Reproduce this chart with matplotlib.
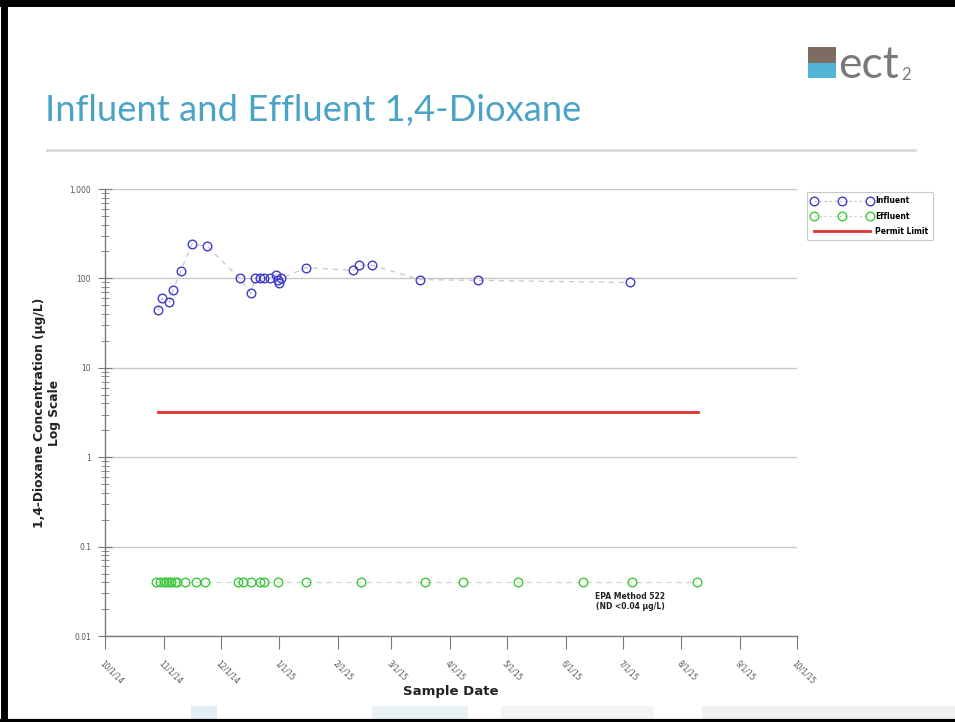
import numpy as np
import pandas as pd
import matplotlib
matplotlib.use('Agg')
import matplotlib.pyplot as plt
import matplotlib.dates as mdates
from matplotlib.lines import Line2D
from matplotlib.patches import Rectangle
from matplotlib.ticker import FixedLocator, FuncFormatter, LogLocator, NullFormatter

# influent samples (ug/L)
influent_dates = ['2014-10-29', '2014-10-31', '2014-11-04', '2014-11-06', '2014-11-10',
                  '2014-11-16', '2014-11-24', '2014-12-11', '2014-12-17', '2014-12-19',
                  '2014-12-22', '2014-12-24', '2014-12-27', '2014-12-30', '2014-12-31',
                  '2015-01-01', '2015-01-02', '2015-01-15', '2015-02-09', '2015-02-12',
                  '2015-02-19', '2015-03-16', '2015-04-16', '2015-07-05']
influent_vals = [44, 60, 54, 75, 122, 245, 228, 100, 68, 100, 100, 100, 100, 110, 95,
                 88, 100, 132, 123, 140, 140, 97, 95, 90]

# effluent samples, all non-detect
effluent_dates = ['2014-10-28', '2014-10-30', '2014-11-01', '2014-11-02', '2014-11-04',
                  '2014-11-05', '2014-11-07', '2014-11-08', '2014-11-12', '2014-11-18',
                  '2014-11-23', '2014-12-10', '2014-12-13', '2014-12-17', '2014-12-22',
                  '2014-12-24', '2014-12-31', '2015-01-15', '2015-02-13', '2015-03-19',
                  '2015-04-08', '2015-05-07', '2015-06-10', '2015-07-06', '2015-08-09']
effluent_vals = [0.04] * len(effluent_dates)

permit_dates = ['2014-10-29', '2015-08-10']
permit_vals = [3.2, 3.2]

tick_dates = pd.date_range('2014-10-01', '2015-10-01', freq='MS')
tick_labels = [f'{d.month}/1/{d.year % 100}' for d in tick_dates]

fig = plt.figure(figsize=(9.55, 7.22), dpi=100)
fig.patch.set_facecolor('white')

# slide decoration
for x0, w, c in [(0.2, 0.027, '#e2eef5'), (0.39, 0.1, '#e8f1f6'), (0.525, 0.16, '#f3f3f3'),
                 (0.735, 0.27, '#f1f1f1')]:
    fig.add_artist(Rectangle((x0, 0.0), w, 0.022, transform=fig.transFigure,
                             facecolor=c, edgecolor='none', zorder=0))
fig.add_artist(Line2D([0.004, 0.004], [0, 1], transform=fig.transFigure, color='black', lw=5))
fig.add_artist(Line2D([0, 1], [0.996, 0.996], transform=fig.transFigure, color='black', lw=5))
fig.add_artist(Line2D([0, 1], [0.002, 0.002], transform=fig.transFigure, color='black', lw=3))

# title + rule
fig.text(0.047, 1 - 110 / 722, 'Influent and Effluent 1,4-Dioxane', fontsize=26.2,
         color='#4ba3c7', family='Lato', va='center', ha='left')
fig.add_artist(Line2D([0.049, 0.958], [1 - 150 / 722] * 2, transform=fig.transFigure,
                      color='#d9d9d9', lw=2))

# logo
fig.add_artist(Rectangle((808 / 955, 1 - 63 / 722), 28 / 955, 16 / 722, transform=fig.transFigure,
                         facecolor='#7d6c62', edgecolor='none'))
fig.add_artist(Rectangle((808 / 955, 1 - 78 / 722), 28 / 955, 15 / 722, transform=fig.transFigure,
                         facecolor='#52b5d6', edgecolor='none'))
fig.text(838 / 955, 1 - 65 / 722, 'ect', fontsize=32, color='#7a7a7a', family='Lato',
         va='center', ha='left')
fig.text(901 / 955, 1 - 75 / 722, '2', fontsize=12, color='#7a7a7a', family='Lato',
         va='center', ha='left')

ax = fig.add_axes([105 / 955, 1 - 636 / 722, 692 / 955, 447 / 722])
ax.set_yscale('log')
ax.set_ylim(0.01, 1000)
ax.set_xlim(tick_dates[0], tick_dates[-1])

inf_x = pd.to_datetime(influent_dates)
eff_x = pd.to_datetime(effluent_dates)
per_x = pd.to_datetime(permit_dates)

ax.plot(inf_x, influent_vals, linestyle=(0, (4, 4)), color='#c4c4d8', lw=0.9, zorder=2)
ax.plot(inf_x, influent_vals, 'o', ms=6.2, mfc='none', mec='#3c3cc8', mew=1.0, zorder=3)
ax.plot(eff_x, effluent_vals, linestyle=(0, (4, 4)), color='#c8d8c8', lw=0.9, zorder=2)
ax.plot(eff_x, effluent_vals, 'o', ms=6.2, mfc='none', mec='#3cc83c', mew=1.0, zorder=3)
ax.plot(per_x, permit_vals, color='#e03232', lw=2, zorder=2)

ax.text(pd.Timestamp('2015-07-05'), 0.031, 'EPA Method 522\n(ND <0.04 \u00b5g/L)',
        ha='center', va='top', fontsize=5.5, fontweight='bold', color='#222222',
        linespacing=1.2)

# axes styling
for s in ['top', 'right']:
    ax.spines[s].set_visible(False)
for s in ['left', 'bottom']:
    ax.spines[s].set_color('#7a7a7a')
    ax.spines[s].set_linewidth(1.0)

ax.yaxis.set_major_locator(LogLocator(base=10, numticks=10))
ax.yaxis.set_major_formatter(FuncFormatter(lambda v, p: f'{v:,.0f}' if v >= 1 else f'{v:g}'))
ax.yaxis.set_minor_locator(LogLocator(base=10, subs=np.arange(2, 10), numticks=10))
ax.yaxis.set_minor_formatter(NullFormatter())
ax.tick_params(axis='y', which='major', direction='inout', length=10, width=0.8,
               color='#7a7a7a', labelsize=5.5, labelcolor='#555555', pad=5)
ax.tick_params(axis='y', which='minor', direction='inout', length=6, width=0.6, color='#7a7a7a')
ax.grid(True, axis='y', which='major', color='#c8c8c8', lw=1.0)

ax.xaxis.set_major_locator(FixedLocator(mdates.date2num(tick_dates)))
ax.set_xticklabels(tick_labels, rotation=-45, ha='left', rotation_mode='anchor')
ax.tick_params(axis='x', which='major', direction='out', length=9, width=0.8,
               color='#7a7a7a', labelsize=5.5, labelcolor='#555555', pad=7)

ax.set_xlabel('Sample Date', fontsize=9.5, fontweight='bold', color='#222222', labelpad=0)
ax.set_ylabel('1,4-Dioxane Concentration (\u00b5g/L)\nLog Scale', fontsize=8.8,
              fontweight='bold', color='#222222', labelpad=6)

# legend outside, top right
handles = [
    Line2D([], [], color='#c4c4d8', ls=(0, (2, 2)), lw=0.9, marker='o', ms=6.2,
           mfc='none', mec='#3c3cc8'),
    Line2D([], [], color='#c8d8c8', ls=(0, (2, 2)), lw=0.9, marker='o', ms=6.2,
           mfc='none', mec='#3cc83c'),
    Line2D([], [], color='#e03232', lw=2),
]
leg = fig.legend(handles, ['Influent', 'Effluent', 'Permit Limit'], numpoints=3,
                 loc='upper left', bbox_to_anchor=(803 / 955, 1 - 188 / 722),
                 prop={'size': 5.5, 'weight': 'bold'}, handlelength=8, handletextpad=0.3,
                 frameon=True, fancybox=True, edgecolor='#bbbbbb', borderpad=0.6,
                 labelspacing=0.8)
leg.get_frame().set_linewidth(0.8)

fig.savefig('out.png', dpi=100, facecolor='white')
